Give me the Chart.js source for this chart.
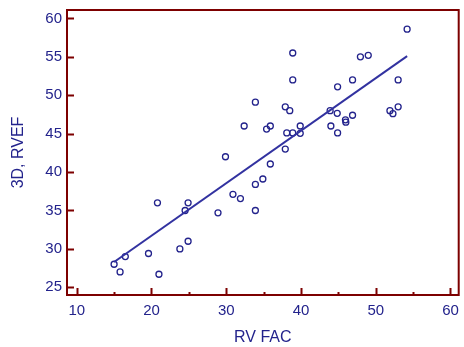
<!DOCTYPE html>
<html>
<head>
<meta charset="utf-8">
<script src="https://cdn.jsdelivr.net/npm/chart.js@4/dist/chart.umd.min.js"></script>
<style>
  html, body { margin: 0; padding: 0; background: #fff; }
  #wrap { width: 464px; height: 347px; position: relative; }
</style>
</head>
<body>
<div id="wrap"><canvas id="chart"></canvas></div>
<script>
/* ── DATA ── */
var rvFac = [15.0, 15.8, 16.5, 19.6, 20.8, 21.0, 23.8, 24.5, 24.9, 24.9,
             28.9, 29.9, 30.9, 31.9, 32.4, 33.9, 33.9, 33.9, 34.9, 35.4,
             35.9, 35.9, 37.9, 38.5, 37.9, 38.1, 38.9, 38.9, 38.9, 39.9,
             39.9, 43.9, 44.85, 44.0, 44.9, 44.9, 45.95, 46.0, 46.9, 46.9,
             47.95, 49.0, 51.9, 52.3, 53.0, 53.0, 54.2];
var rvef3d = [28.0, 27.0, 29.0, 29.4, 36.0, 26.7, 30.0, 35.0, 36.0, 31.0,
              34.7, 42.0, 37.1, 36.55, 46.0, 49.1, 38.4, 35.0, 39.1, 45.6,
              46.0, 41.05, 48.5, 48.0, 43.0, 45.1, 45.1, 55.5, 52.0, 46.0,
              45.05, 48.0, 47.65, 46.0, 45.1, 51.1, 46.8, 46.5, 47.4, 52.0,
              55.0, 55.2, 48.0, 47.6, 48.5, 52.0, 58.6];
// regression line end points
var fitX = [15.0, 54.2];
var fitY = [28.3, 55.1];

var xTicks = [10, 20, 30, 40, 50, 60];
var xMinorTicks = [15, 25, 35, 45, 55];
var yTicks = [25, 30, 35, 40, 45, 50, 55, 60];

var NAVY = '#23238c';
var FRAME = '#7d0000';

var points = [];
for (var i = 0; i < rvFac.length; i++) points.push({ x: rvFac[i], y: rvef3d[i] });
var fitLine = [];
for (var j = 0; j < fitX.length; j++) fitLine.push({ x: fitX[j], y: fitY[j] });

/* ── FRAME + INWARD TICKS ── */
var framePlugin = {
  id: 'frame',
  afterDatasetsDraw: function(chart) {
    var ctx = chart.ctx, a = chart.chartArea;
    var xs = chart.scales.x, ys = chart.scales.y;
    ctx.save();
    ctx.strokeStyle = FRAME;
    ctx.lineWidth = 2;
    ctx.strokeRect(a.left, a.top, a.right - a.left, a.bottom - a.top);
    ctx.beginPath();
    for (var i = 0; i < xTicks.length; i++) {
      var px = Math.round(xs.getPixelForValue(xTicks[i])) + 0.5;
      ctx.moveTo(px, a.bottom); ctx.lineTo(px, a.bottom - 7);
    }
    for (var k = 0; k < xMinorTicks.length; k++) {
      var mx = Math.round(xs.getPixelForValue(xMinorTicks[k])) + 0.5;
      ctx.moveTo(mx, a.bottom); ctx.lineTo(mx, a.bottom - 3);
    }
    for (var j = 0; j < yTicks.length; j++) {
      var py = Math.round(ys.getPixelForValue(yTicks[j])) + 0.5;
      ctx.moveTo(a.left, py); ctx.lineTo(a.left + 7, py);
    }
    ctx.stroke();
    ctx.restore();
  }
};

var ctx = document.getElementById('chart').getContext('2d');
new Chart(ctx, {
  type: 'scatter',
  data: {
    datasets: [{
      data: points,
      pointStyle: 'circle',
      pointRadius: 3,
      pointBorderWidth: 1.3,
      pointBorderColor: NAVY,
      pointBackgroundColor: 'rgba(255,255,255,0)',
      showLine: false,
      order: 2
    }, {
      type: 'line',
      data: fitLine,
      borderColor: '#3232a0',
      borderWidth: 2,
      pointRadius: 0,
      fill: false,
      order: 1
    }]
  },
  options: {
    responsive: true,
    maintainAspectRatio: false,
    animation: false,
    layout: { padding: { left: 0, right: 3, top: 10, bottom: 0 } },
    plugins: { legend: { display: false }, tooltip: { enabled: false } },
    scales: {
      x: {
        type: 'linear',
        min: 8.7, max: 61.1,
        afterBuildTicks: function(s) { s.ticks = xTicks.map(function(v) { return { value: v }; }); },
        grid: { display: false, drawTicks: false },
        border: { display: false },
        ticks: { color: NAVY, font: { family: 'Liberation Sans', size: 15 }, padding: 7, maxRotation: 0, autoSkip: false },
        title: { display: true, text: 'RV FAC', color: NAVY, font: { family: 'Liberation Sans', size: 16 }, padding: { top: 4, bottom: 0 } },
        afterFit: function(s) { s.height = 52; s.paddingLeft = 0; s.paddingRight = 0; }
      },
      y: {
        type: 'linear',
        min: 24, max: 61.1,
        afterBuildTicks: function(s) { s.ticks = yTicks.map(function(v) { return { value: v }; }); },
        grid: { display: false, drawTicks: false },
        border: { display: false },
        ticks: { color: NAVY, font: { family: 'Liberation Sans', size: 15 }, padding: 5, autoSkip: false },
        title: { display: true, text: '3D, RVEF', color: NAVY, font: { family: 'Liberation Sans', size: 16 }, padding: { top: 9, bottom: 2 } },
        afterFit: function(s) { s.width = 67; s.paddingTop = 0; s.paddingBottom = 0; }
      }
    }
  },
  plugins: [framePlugin]
});
</script>
</body>
</html>
